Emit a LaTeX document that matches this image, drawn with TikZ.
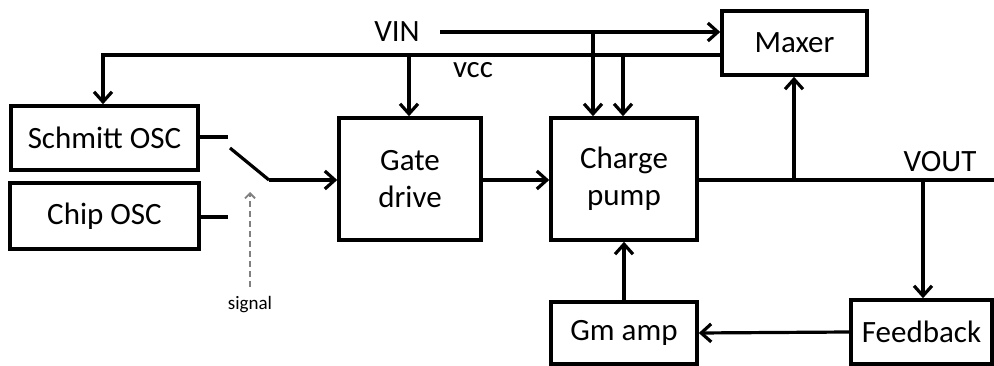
\documentclass[tikz,border=0pt]{standalone}
\usepackage{fontspec}
\setmainfont{Carlito}
\usetikzlibrary{arrows.meta}
\begin{document}
\begin{tikzpicture}[x=1pt,y=-1pt,
  blk/.style={draw,line width=3.6pt,rectangle,inner sep=0pt,font=\fontsize{31}{37}\selectfont,align=center},
  wire/.style={line width=3.2pt},
  arr/.style={wire,-{Straight Barb[length=10pt,width=18pt,line width=3.2pt]}},
  lbl/.style={font=\fontsize{31}{34}\selectfont,inner sep=0pt}]
\useasboundingbox (0,0) rectangle (994,366);
\node[blk,minimum width=187pt,minimum height=64pt] (schmitt) at (104.5,138) {Schmitt OSC};
\node[blk,minimum width=189pt,minimum height=66pt] (chip) at (104.5,216) {Chip OSC};
\node[blk,minimum width=142pt,minimum height=122pt] (gate) at (410,179) {Gate\\drive};
\node[blk,minimum width=146pt,minimum height=122pt] (cp) at (624,179) {Charge\\pump};
\node[blk,minimum width=145pt,minimum height=64pt] (maxer) at (794.5,43) {Maxer};
\node[blk,minimum width=146pt,minimum height=62pt] (gm) at (624,333) {Gm amp};
\node[blk,minimum width=141pt,minimum height=64pt] (fb) at (921.5,332) {Feedback};
\node[lbl] (vin) at (397,32) {VIN};
\node[lbl] (vcc) at (473,70) {vcc};
\node[lbl] (vout) at (940,162) {VOUT};
\node[font=\fontsize{19}{21}\selectfont,inner sep=0pt] (sig) at (250,305) {signal};
% VIN line
\coordinate (vin0) at (440,32);
\coordinate (vinj) at (593,32);
\draw[arr] (vin0) -- (vin0 -| maxer.west);
\draw[arr] (vinj) -- (vinj |- cp.north);
% VCC line
\coordinate (vccL) at (103,55);
\coordinate (vccR) at (maxer.west |- vccL);
\coordinate (vccG) at (409,55);
\coordinate (vccC) at (623,55);
\draw[arr] (vccR) -- (vccL) -- (vccL |- schmitt.north);
\draw[arr] (vccG) -- (vccG |- gate.north);
\draw[arr] (vccC) -- (vccC |- cp.north);
% switch
\coordinate (s1) at (228,137);
\coordinate (c1) at (228,217);
\coordinate (swA) at (230,148);
\coordinate (swB) at (269,180);
\draw[wire] (schmitt.east |- s1) -- (s1);
\draw[wire] (chip.east |- c1) -- (c1);
\draw[wire] (swA) -- (swB);
\draw[arr] (swB) -- (swB -| gate.west);
% signal
\coordinate (sigB) at (250,287);
\coordinate (sigT) at (250,192);
\draw[line width=1.8pt,gray,dash pattern=on 6pt off 4pt,-{Straight Barb[length=5pt,width=10pt,line width=1.8pt]}] (sigB) -- (sigT);
% gate to cp
\draw[arr] (gate.east |- swB) -- (cp.west |- swB);
% output
\coordinate (outR) at (994,180);
\coordinate (jM) at (794,180);
\coordinate (jF) at (923,180);
\draw[wire] (cp.east |- outR) -- (outR);
\draw[arr] (jM) -- (jM |- maxer.south);
\draw[arr] (jF) -- (jF |- fb.north);
% feedback loop
\draw[arr] (fb.west) -- (gm.east);
\draw[arr] (gm.north) -- (cp.south);
\end{tikzpicture}
\end{document}
